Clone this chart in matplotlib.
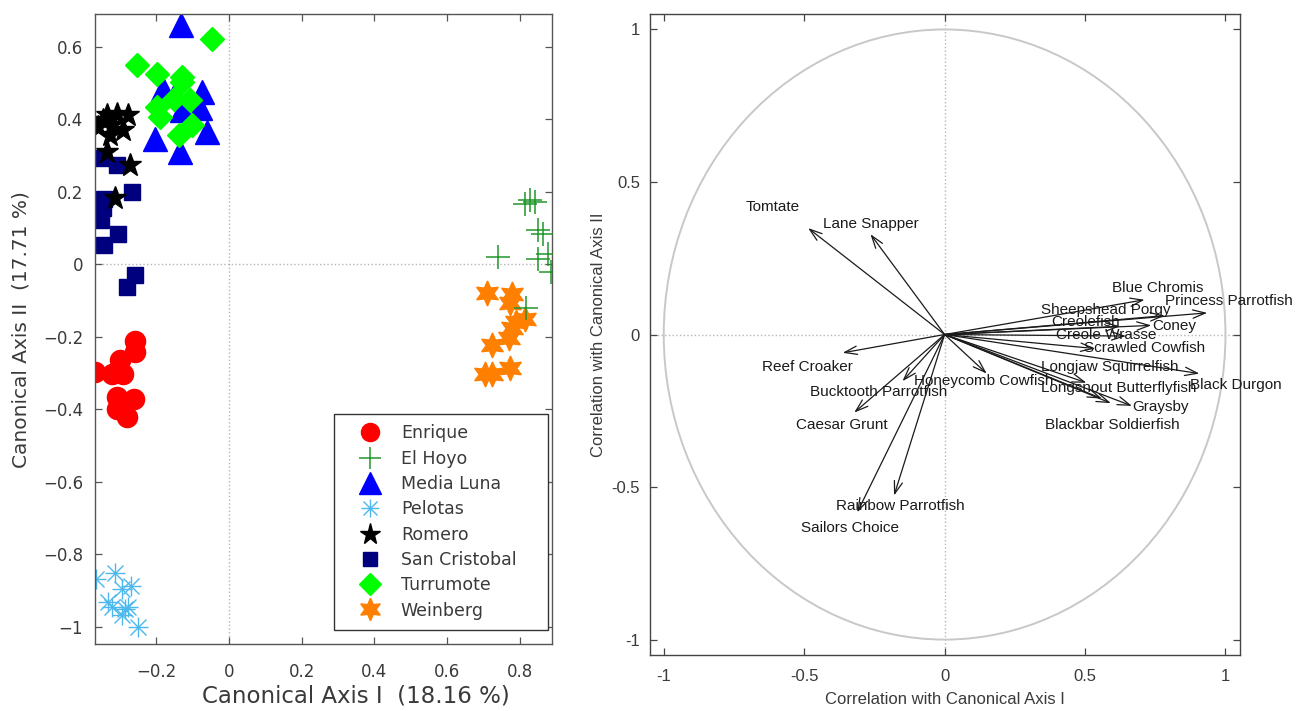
import matplotlib
matplotlib.use("Agg")
import matplotlib.pyplot as plt
from matplotlib.patches import Circle
from matplotlib.ticker import FuncFormatter

plt.rcParams["font.family"] = ["Liberation Sans", "DejaVu Sans"]

# ---- left panel: site scores on the first two canonical axes ----
enrique_x = [-0.259, -0.259, -0.369, -0.300, -0.323, -0.291, -0.309, -0.263, -0.295, -0.309, -0.281]
enrique_y = [-0.212, -0.242, -0.297, -0.265, -0.302, -0.302, -0.366, -0.371, -0.389, -0.398, -0.421]

el_hoyo_x = [0.814, 0.828, 0.842, 0.851, 0.865, 0.741, 0.849, 0.879, 0.885, 0.817]
el_hoyo_y = [0.167, 0.177, 0.172, 0.094, 0.085, 0.020, 0.016, 0.029, -0.021, -0.120]

media_luna_x = [-0.132, -0.183, -0.075, -0.130, -0.080, -0.204, -0.135, -0.061, -0.150]
media_luna_y = [0.659, 0.485, 0.475, 0.425, 0.430, 0.347, 0.309, 0.365, 0.470]

pelotas_x = [-0.367, -0.315, -0.295, -0.270, -0.332, -0.321, -0.286, -0.295, -0.251, -0.278]
pelotas_y = [-0.869, -0.851, -0.895, -0.888, -0.931, -0.945, -0.950, -0.968, -1.000, -0.945]

romero_x = [-0.360, -0.337, -0.308, -0.277, -0.322, -0.291, -0.327, -0.337, -0.272, -0.313, -0.346]
romero_y = [0.378, 0.411, 0.416, 0.411, 0.383, 0.370, 0.356, 0.309, 0.273, 0.182, 0.397]

san_cristobal_x = [-0.346, -0.309, -0.268, -0.343, -0.346, -0.352, -0.306, -0.343, -0.259, -0.281]
san_cristobal_y = [0.292, 0.273, 0.199, 0.181, 0.154, 0.121, 0.085, 0.052, -0.030, -0.063]

turrumote_x = [-0.048, -0.254, -0.199, -0.130, -0.199, -0.190, -0.153, -0.107, -0.130, -0.103, -0.139]
turrumote_y = [0.623, 0.549, 0.526, 0.517, 0.434, 0.406, 0.457, 0.452, 0.502, 0.383, 0.356]

weinberg_x = [0.709, 0.780, 0.773, 0.814, 0.791, 0.778, 0.771, 0.723, 0.704, 0.723, 0.773]
weinberg_y = [-0.078, -0.081, -0.108, -0.150, -0.159, -0.177, -0.203, -0.223, -0.302, -0.302, -0.286]

left_xticks = [-0.2, 0, 0.2, 0.4, 0.6, 0.8]
left_yticks = [-1, -0.8, -0.6, -0.4, -0.2, 0, 0.2, 0.4, 0.6]

# ---- right panel: species correlations with the canonical axes ----
species = ["Tomtate", "Lane Snapper", "Blue Chromis", "Princess Parrotfish",
           "Sheepshead Porgy", "Creolefish", "Coney", "Creole Wrasse",
           "Scrawled Cowfish", "Longjaw Squirrelfish", "Black Durgon",
           "Longsnout Butterflyfish", "Graysby", "Blackbar Soldierfish",
           "Reef Croaker", "Honeycomb Cowfish", "Bucktooth Parrotfish",
           "Caesar Grunt", "Rainbow Parrotfish", "Sailors Choice"]
corr_x = [-0.486, -0.264, 0.712, 0.935, 0.784, 0.625, 0.736, 0.646, 0.536, 0.505,
          0.907, 0.592, 0.667, 0.560, -0.363, 0.150, -0.150, -0.322, -0.180, -0.311]
corr_y = [0.349, 0.329, 0.114, 0.071, 0.062, 0.027, 0.030, -0.005, -0.046, -0.158,
          -0.128, -0.225, -0.234, -0.210, -0.060, -0.128, -0.153, -0.256, -0.528, -0.583]
label_x = [-0.709, -0.432, 0.596, 0.784, 0.345, 0.379, 0.739, 0.395, 0.496, 0.345,
           0.873, 0.342, 0.667, 0.358, -0.649, -0.109, -0.480, -0.528, -0.386, -0.513]
label_y = [0.419, 0.363, 0.153, 0.109, 0.079, 0.040, 0.027, -0.002, -0.043, -0.107,
           -0.167, -0.176, -0.238, -0.296, -0.107, -0.153, -0.187, -0.296, -0.561, -0.635]

right_ticks = [-1, -0.5, 0, 0.5, 1]
right_ticklabels = ["-1", "-0.5", "0", "0.5", "1"]

text_gray = "#3a3a3a"
spine_gray = "#555555"
wide_font = ["DejaVu Sans"]


def matlab_fmt(v, pos):
    s = f"{round(v, 6) + 0.0:g}"
    return s.replace("-", "\u2212")


def frame(ax, color, size, xpad, ypad):
    for sp in ax.spines.values():
        sp.set_color(color)
        sp.set_linewidth(1.0)
    ax.tick_params(direction="in", top=True, right=True, length=5, width=0.9,
                   color=color, labelcolor=text_gray, labelsize=size)
    ax.tick_params(axis="x", pad=xpad)
    ax.tick_params(axis="y", pad=ypad)
    ax.axhline(0, color="#b5b5b5", ls=":", lw=1, zorder=0)
    ax.axvline(0, color="#b5b5b5", ls=":", lw=1, zorder=0)


fig = plt.figure(figsize=(13.02, 7.11), dpi=100)

# Site scores
ax = fig.add_axes([0.073, 0.094, 0.351, 0.886])
frame(ax, spine_gray, 12, 13.5, 8.5)

h_enr, = ax.plot(enrique_x, enrique_y, "o", ms=14.5, color="#ff0000", mec="#ff0000", ls="none")
h_hoyo, = ax.plot(el_hoyo_x, el_hoyo_y, "+", ms=17, mew=1.1, color="#22962a", ls="none", zorder=3)
h_ml, = ax.plot(media_luna_x, media_luna_y, "^", ms=17, color="#0000ff", ls="none")
h_pel1, = ax.plot(pelotas_x, pelotas_y, "+", ms=15, mew=1.0, color="#4db8ee", ls="none")
h_pel2, = ax.plot(pelotas_x, pelotas_y, "x", ms=11, mew=1.0, color="#4db8ee", ls="none")
h_sc, = ax.plot(san_cristobal_x, san_cristobal_y, "s", ms=11, color="#00007f", ls="none")
h_rom, = ax.plot(romero_x, romero_y, "*", ms=17, color="black", ls="none")
h_tur, = ax.plot(turrumote_x, turrumote_y, "D", ms=12.5, color="#00ff00", ls="none")
h_wei, = ax.plot(weinberg_x, weinberg_y, marker=(6, 1, 0), ms=18, color="#ff8000", ls="none")

ax.set_xlim(-0.369, 0.889)
ax.set_ylim(-1.048, 0.69)
ax.set_xticks(left_xticks)
ax.set_yticks(left_yticks)
ax.xaxis.set_major_formatter(FuncFormatter(matlab_fmt))
ax.yaxis.set_major_formatter(FuncFormatter(matlab_fmt))
for t in ax.get_xticklabels() + ax.get_yticklabels():
    t.set_family(wide_font)
ax.set_xlabel("Canonical Axis I  (18.16 %)", fontsize=16.5, color=text_gray, family=wide_font)
ax.set_ylabel("Canonical Axis II  (17.71 %)", fontsize=14.5, color=text_gray, family=wide_font)
ax.xaxis.set_label_coords(0.571, -0.064)
ax.yaxis.set_label_coords(-0.142, 0.5)

handles = [h_enr, h_hoyo, h_ml, (h_pel1, h_pel2), h_rom, h_sc, h_tur, h_wei]
names = ["Enrique", "El Hoyo", "Media Luna", "Pelotas", "Romero",
         "San Cristobal", "Turrumote", "Weinberg"]
leg = ax.legend(handles, names, loc="upper left", bbox_to_anchor=(0.523, 0.0143, 0.468, 0.351),
                mode="expand", borderaxespad=0, prop={"family": wide_font, "size": 12.5},
                labelspacing=0.42, handlelength=2.95, handletextpad=0.3, borderpad=0.6,
                markerscale=0.9, fancybox=False, framealpha=1, edgecolor="#333333")
leg.get_frame().set_linewidth(1.0)
for t in leg.get_texts():
    t.set_color(text_gray)

# Species correlations
ax2 = fig.add_axes([0.499, 0.079, 0.453, 0.901])
frame(ax2, "#444444", 12, 10, 7)
ax2.add_patch(Circle((0, 0), 1, fill=False, ec="#c8c8c8", lw=1.4, zorder=1))

for name, x, y, lx, ly in zip(species, corr_x, corr_y, label_x, label_y):
    ax2.annotate("", xy=(x, y), xytext=(0, 0),
                 arrowprops=dict(arrowstyle="->,head_length=0.9,head_width=0.3",
                                 color="#1a1a1a", lw=0.9, shrinkA=0, shrinkB=0))
    ax2.text(lx, ly, name, ha="left", va="center", fontsize=11, color="#1a1a1a")

ax2.set_xlim(-1.05, 1.05)
ax2.set_ylim(-1.05, 1.05)
ax2.set_xticks(right_ticks)
ax2.set_xticklabels(right_ticklabels)
ax2.set_yticks(right_ticks)
ax2.set_yticklabels(right_ticklabels)
ax2.set_xlabel("Correlation with Canonical Axis I", fontsize=12, color=text_gray, labelpad=6)
ax2.set_ylabel("Correlation with Canonical Axis II", fontsize=12, color=text_gray)

fig.savefig("out.png", dpi=100)
